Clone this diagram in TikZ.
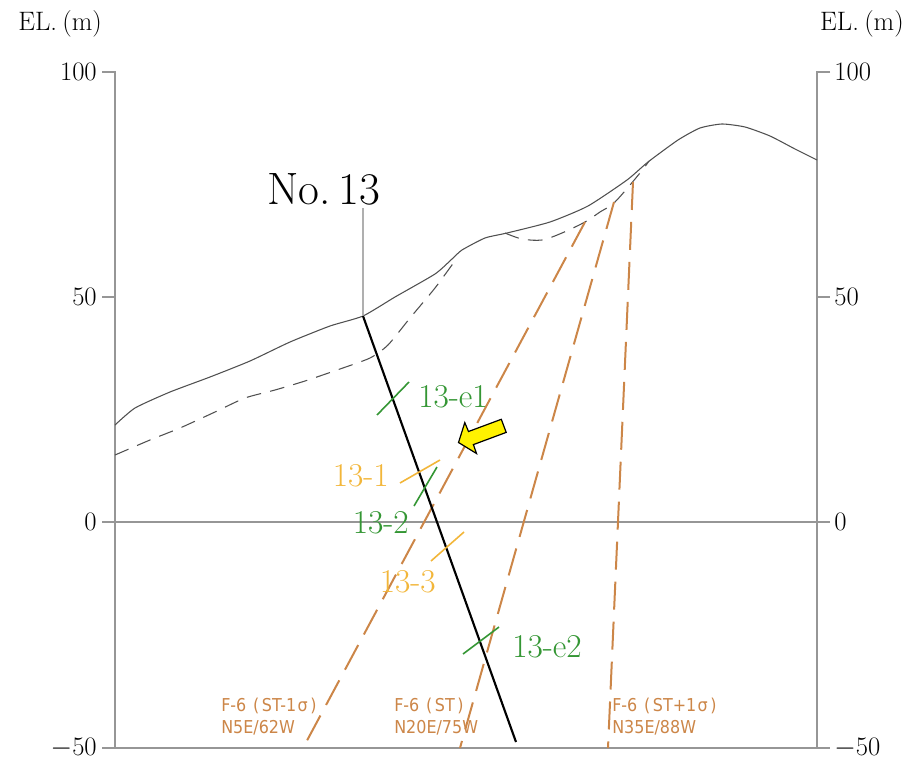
\documentclass[tikz,border=0pt]{standalone}
\usepackage{fontspec}
\newfontfamily\faultfont[FakeStretch=0.9]{DejaVu Sans}
\definecolor{axisgray}{RGB}{150,150,150}
\definecolor{topogray}{RGB}{80,80,80}
\definecolor{guidegray}{RGB}{175,175,175}
\definecolor{faultbrown}{RGB}{204,134,72}
\definecolor{zonegreen}{RGB}{52,150,52}
\definecolor{zoneorange}{RGB}{242,182,58}
\definecolor{arrowyellow}{RGB}{255,242,0}
\begin{document}
\begin{tikzpicture}[x=0.75pt,y=-0.75pt,
  frame/.style={draw=axisgray,line width=1.3pt},
  baseline0/.style={draw=axisgray,line width=0.8pt},
  bottomline/.style={draw=axisgray,line width=2pt},
  topo/.style={draw=topogray,line width=0.8pt},
  weathered/.style={draw=topogray,line width=0.8pt,dash pattern=on 11pt off 7pt},
  fault/.style={draw=faultbrown,line width=1.5pt,dash pattern=on 21pt off 9pt},
  borehole/.style={draw=black,line width=1.6pt},
  guide/.style={draw=guidegray,line width=0.8pt},
  gtick/.style={draw=zonegreen,line width=1.2pt},
  otick/.style={draw=zoneorange,line width=1.2pt},
  elev/.style={font=\fontsize{20}{22}\selectfont,inner sep=0pt},
  glabel/.style={text=zonegreen,font=\fontsize{25}{27}\selectfont,inner sep=0pt},
  olabel/.style={text=zoneorange,font=\fontsize{25}{27}\selectfont,inner sep=0pt},
  flabel/.style={text=faultbrown,font=\faultfont\fontsize{13.3}{15}\selectfont,inner sep=0pt,anchor=west}]
\useasboundingbox (0,0) rectangle (909,763);

% elevation frame
\coordinate (L100) at (115,72);  \coordinate (L-50) at (115,748);
\coordinate (R100) at (817,72);  \coordinate (R-50) at (817,748);
\draw[frame] (102,72) -- (L100) -- (L-50);
\draw[frame] (830,72) -- (R100) -- (R-50);
\draw[frame] (102,297) -- (115,297);
\draw[frame] (817,297) -- (830,297);
\draw[frame] (102,748) -- (L-50);
\draw[frame] (R-50) -- (830,748);
\draw[baseline0] (102,522) -- (830,522);
\draw[bottomline] (L-50) -- (R-50);

% elevation labels
\node[elev,anchor=west] (ELl) at (18,24) {EL.\hspace{4pt}(m)};
\node[elev,anchor=east] (ELr) at (904,24) {EL.\hspace{4pt}(m)};
\node[elev,anchor=east] (l100) at (97,72) {100};
\node[elev,anchor=east] (l50) at (97,297) {50};
\node[elev,anchor=east] (l0) at (97,522) {0};
\node[elev,anchor=east] (lm50) at (97,748) {$-$50};
\node[elev,anchor=west] (r100) at (834,72) {100};
\node[elev,anchor=west] (r50) at (834,297) {50};
\node[elev,anchor=west] (r0) at (834,522) {0};
\node[elev,anchor=west] (rm50) at (834,748) {$-$50};

% ground surface
\draw[topo] plot[smooth,tension=0.35] coordinates {
  (115,425) (135,408) (170,392) (210,377) (250,361) (290,342) (330,326)
  (363,316) (395,297) (435,274) (452,259) (462,250) (485,238) (507,233)
  (550,222) (588,206) (627,180) (648,162) (678,140) (700,128) (722,124)
  (745,127) (770,136) (795,149) (817,160)};

% base of weathered zone
\draw[weathered] plot[smooth,tension=0.4] coordinates {
  (115,455) (150,440) (180,428) (215,412) (245,398) (275,390) (305,381)
  (340,369) (370,358) (388,345) (410,318) (435,288) (457,258)};
\draw[weathered] plot[smooth,tension=0.5] coordinates {
  (505,233) (522,239) (542,240) (562,233) (585,222) (600,212) (615,202)
  (640,173) (649,161)};

% F-6 fault traces
\coordinate (f1top) at (585,222); \coordinate (f1bot) at (303,748);
\coordinate (f2top) at (614,202); \coordinate (f2bot) at (460,748);
\coordinate (f3top) at (633,182); \coordinate (f3bot) at (608,748);
\draw[fault] (f1top) -- (f1bot);
\draw[fault] (f2top) -- (f2bot);
\draw[fault] (f3top) -- (f3bot);

% borehole No.13
\coordinate (bhtop) at (363,316);
\coordinate (bhbot) at (516,742);
\coordinate (bhguide) at (363,208);
\draw[guide] (bhguide) -- (bhtop);
\draw[borehole] (bhtop) -- (bhbot);
\node[font=\fontsize{34}{36}\selectfont,inner sep=0pt] (no13) at (324,189) {No.\hspace{6pt}13};

% intersected zones along the borehole
\coordinate (e1a) at (377,415); \coordinate (e1b) at (409,382);
\coordinate (z1a) at (400,483); \coordinate (z1b) at (440,460);
\coordinate (z2a) at (414,506); \coordinate (z2b) at (437,467);
\coordinate (z3a) at (431,561); \coordinate (z3b) at (464,532);
\coordinate (e2a) at (463,654); \coordinate (e2b) at (499,627);
\draw[gtick] (e1a) -- (e1b);
\draw[otick] (z1a) -- (z1b);
\draw[gtick] (z2a) -- (z2b);
\draw[otick] (z3a) -- (z3b);
\draw[gtick] (e2a) -- (e2b);
\node[glabel,anchor=west] (le1) at (418,397) {13-e1};
\node[olabel,anchor=east] (l1) at (389,476) {13-1};
\node[glabel,anchor=east] (l2) at (409,523) {13-2};
\node[olabel,anchor=east] (l3) at (436,582) {13-3};
\node[glabel,anchor=west] (le2) at (512,647) {13-e2};

% pointer arrow
\draw[fill=arrowyellow,draw=black,line width=0.9pt,line join=miter]
  (458.5,442.5) -- (476.5,453.5) -- (473.4,444.6) -- (506.2,432.4)
  -- (501.3,419.3) -- (468.5,431.5) -- (464.8,422.6) -- cycle;

% fault labels
\node[flabel] (fa1) at (221,706) {F-6\hspace{5pt}(\hspace{2pt}ST-1\hspace{1pt}σ\hspace{2pt})};
\node[flabel] (fb1) at (221,728) {N5E/62W};
\node[flabel] (fa2) at (394,706) {F-6\hspace{5pt}(\hspace{2pt}ST\hspace{2pt})};
\node[flabel] (fb2) at (394,728) {N20E/75W};
\node[flabel] (fa3) at (612,706) {F-6\hspace{5pt}(\hspace{2pt}ST+1\hspace{1pt}σ\hspace{2pt})};
\node[flabel] (fb3) at (612,728) {N35E/88W};
\end{tikzpicture}
\end{document}
